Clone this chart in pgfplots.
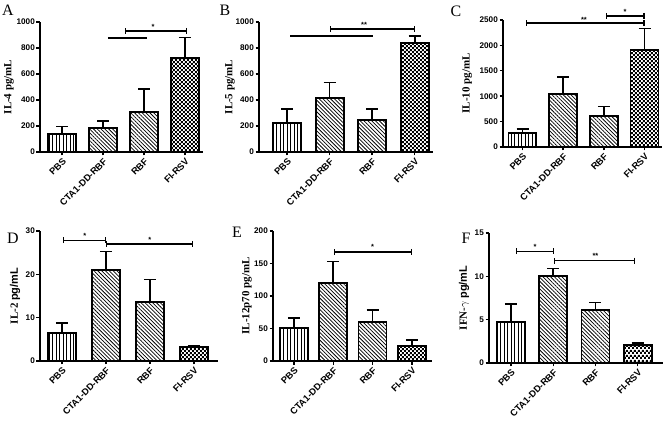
\documentclass[border=0pt]{standalone}
\usepackage{fontspec}
\setmainfont{Liberation Serif}
\setsansfont{Liberation Sans}
\usepackage{pgfplots}
\pgfplotsset{compat=1.18}
\usetikzlibrary{patterns,patterns.meta,arrows.meta}
\pgfdeclarepatternformonly{finecheck}{\pgfpointorigin}{\pgfqpoint{4.4bp}{4.4bp}}{\pgfqpoint{4.4bp}{4.4bp}}{%
  \pgfpathrectangle{\pgfpointorigin}{\pgfqpoint{2.2bp}{2.2bp}}%
  \pgfpathrectangle{\pgfqpoint{2.2bp}{2.2bp}}{\pgfqpoint{2.2bp}{2.2bp}}%
  \pgfusepath{fill}}
\pgfplotsset{
  panel/.style={
    scale only axis, anchor=south west, clip=false,
    axis x line=bottom, axis y line=left,
    axis line style={-, line width=1.6bp, black},
    tick align=outside, major tick length=3.5bp,
    tick style={line width=1.4bp, black},
    ybar, bar width=28bp, ymin=0,
    xtick={0,1,2,3}, xticklabels={PBS,CTA1-DD-RBF,RBF,FI-RSV},
    x tick label style={rotate=45, anchor=north east, inner sep=1.5bp,
      font=\sffamily\bfseries\fontsize{9.3}{10}\selectfont},
    y tick label style={font=\sffamily\bfseries\fontsize{8.2}{9}\selectfont, inner sep=1.5bp},
    /pgf/number format/assume math mode=true,
    scaled y ticks=false, yticklabel style={/pgf/number format/1000 sep={}},
    ylabel style={anchor=center, font=\bfseries\fontsize{11}{12}\selectfont},
  },
  barst/.style={draw=black, line width=1.8bp, bar shift=0pt,
    error bars/.cd, y dir=plus, y explicit,
    error bar style={line width=1.6bp, black},
    error mark options={rotate=90, mark size=6bp, line width=1.6bp, black}},
  pv/.style={pattern={Lines[angle=90, distance=3.5bp, line width=0.8bp]}, barst},
  ph/.style={pattern={Lines[angle=-45, distance=2.7bp, line width=0.75bp]}, barst},
  pc/.style={pattern=finecheck, barst},
}
\tikzset{
  brk/.style={line width=1.1bp, {Bar[width=6bp]}-{Bar[width=6bp]}},
  pln/.style={line width=1.1bp},
}
\newcommand{\sig}[1]{\sffamily\bfseries\fontsize{7.5}{8}\selectfont #1}
\begin{document}
\begin{tikzpicture}
\path[use as bounding box] (0,0) rectangle (668bp,425bp);
% panel letters
\node[font=\fontsize{16}{16}\selectfont] at (8bp,415bp) {A};
\node[font=\fontsize{16}{16}\selectfont] at (225bp,415bp) {B};
\node[font=\fontsize{16}{16}\selectfont] at (456bp,414bp) {C};
\node[font=\fontsize{16}{16}\selectfont] at (13bp,187bp) {D};
\node[font=\fontsize{16}{16}\selectfont] at (237bp,193bp) {E};
\node[font=\fontsize{16}{16}\selectfont] at (466bp,187bp) {F};

% ---------- A ----------
\begin{axis}[panel, at={(40bp,273bp)}, width=163bp, height=130bp,
  xmin=-0.54, xmax=3.44, ymax=1000, ytick={0,200,...,1000},
  ylabel={IL-4 pg/mL}, ylabel style={at={(axis description cs:-0.19,0.5)}}]
\addplot[pv] coordinates {(0,140) +- (0,55)};
\addplot[ph] coordinates {(1,185) +- (0,55)};
\addplot[ph] coordinates {(2,310) +- (0,175)};
\addplot[pc] coordinates {(3,725) +- (0,155)};
\draw[pln] (axis cs:1.12,877) -- (axis cs:2.07,877);
\draw[brk] (axis cs:1.54,931) -- (axis cs:3.05,931);
\node at (axis cs:2.22,965) {\sig{*}};
\end{axis}

% ---------- B ----------
\begin{axis}[panel, at={(259bp,273bp)}, width=174bp, height=130bp,
  xmin=-0.66, xmax=3.43, ymax=1000, ytick={0,200,...,1000},
  ylabel={IL-5 pg/mL}, ylabel style={at={(axis description cs:-0.167,0.5)}}]
\addplot[pv] coordinates {(0,225) +- (0,105)};
\addplot[ph] coordinates {(1,415) +- (0,120)};
\addplot[ph] coordinates {(2,248) +- (0,82)};
\addplot[pc] coordinates {(3,840) +- (0,50)};
\draw[pln] (axis cs:0.07,892) -- (axis cs:2.02,892);
\draw[brk] (axis cs:1.01,946) -- (axis cs:3.01,946);
\node at (axis cs:1.81,980) {\sig{**}};
\end{axis}

% ---------- C ----------
\begin{axis}[panel, at={(503bp,278bp)}, width=159bp, height=127bp,
  xmin=-0.48, xmax=3.43, ymax=2500, ytick={0,500,...,2500},
  ylabel={IL-10 pg/mL}, ylabel style={at={(axis description cs:-0.226,0.5)}}]
\addplot[pv] coordinates {(0,275) +- (0,80)};
\addplot[ph] coordinates {(1,1045) +- (0,335)};
\addplot[ph] coordinates {(2,610) +- (0,185)};
\addplot[pc] coordinates {(3,1905) +- (0,425)};
\draw[brk] (axis cs:0.09,2441) -- (axis cs:3.0,2441);
\node at (axis cs:1.51,2500) {\sig{**}};
\draw[brk] (axis cs:2.05,2579) -- (axis cs:3.0,2579);
\node at (axis cs:2.52,2650) {\sig{*}};
\end{axis}

% ---------- D ----------
\begin{axis}[panel, at={(40bp,64bp)}, width=178bp, height=130bp,
  xmin=-0.5, xmax=3.55, ymax=30, ytick={0,10,20,30},
  ylabel={IL-2 {\sffamily pg/mL}}, ylabel style={at={(axis description cs:-0.14,0.5)}}]
\addplot[pv] coordinates {(0,6.5) +- (0,2.3)};
\addplot[ph] coordinates {(1,21) +- (0,4.3)};
\addplot[ph] coordinates {(2,13.6) +- (0,5.2)};
\addplot[pc] coordinates {(3,3.2) +- (0,0.4)};
\draw[brk] (axis cs:0.02,27.9) -- (axis cs:1.0,27.9);
\node at (axis cs:0.52,28.9) {\sig{*}};
\draw[brk] (axis cs:1.0,27.0) -- (axis cs:2.98,27.0);
\node at (axis cs:2.0,28.0) {\sig{*}};
\end{axis}

% ---------- E ----------
\begin{axis}[panel, at={(273bp,64bp)}, width=159bp, height=130bp,
  xmin=-0.53, xmax=3.51, ymax=200, ytick={0,50,...,200},
  ylabel={IL-12p70 pg/mL}, ylabel style={at={(axis description cs:-0.164,0.5)}}]
\addplot[pv] coordinates {(0,51) +- (0,15)};
\addplot[ph] coordinates {(1,120) +- (0,33)};
\addplot[ph] coordinates {(2,60) +- (0,18)};
\addplot[pc] coordinates {(3,23) +- (0,9)};
\draw[brk] (axis cs:1.02,167.7) -- (axis cs:3.0,167.7);
\node at (axis cs:2.0,175) {\sig{*}};
\end{axis}

% ---------- F ----------
\begin{axis}[panel, at={(489bp,62bp)}, width=174bp, height=130bp,
  xmin=-0.52, xmax=3.6, ymax=15, ytick={0,5,10,15},
  ylabel={IFN-$\gamma$ {\sffamily pg/mL}}, ylabel style={at={(axis description cs:-0.144,0.5)}}]
\addplot[pv] coordinates {(0,4.7) +- (0,2.1)};
\addplot[ph] coordinates {(1,10) +- (0,0.9)};
\addplot[ph] coordinates {(2,6.1) +- (0,0.9)};
\addplot[pc] coordinates {(3,2.1) +- (0,0.2)};
\draw[brk] (axis cs:0.12,12.9) -- (axis cs:1.02,12.9);
\node at (axis cs:0.57,13.45) {\sig{*}};
\draw[brk] (axis cs:1.02,11.8) -- (axis cs:2.94,11.8);
\node at (axis cs:2.0,12.35) {\sig{**}};
\end{axis}
\end{tikzpicture}
\end{document}
